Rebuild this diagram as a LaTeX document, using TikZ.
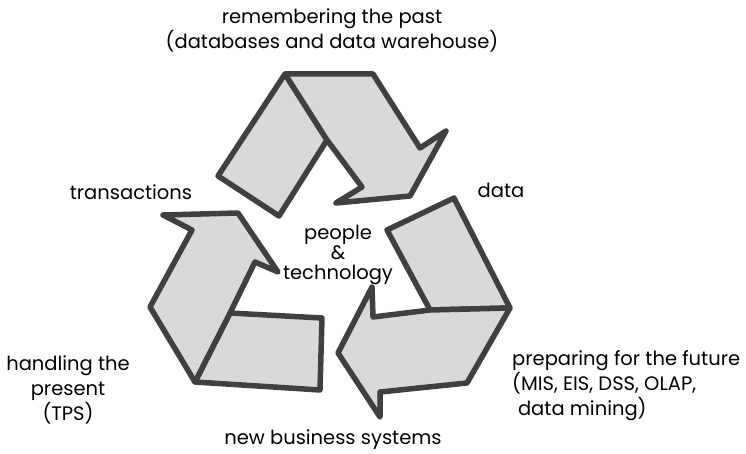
\documentclass[tikz,border=0pt]{standalone}
\usepackage{fontspec}
\setmainfont{Poppins}
\definecolor{bandfill}{HTML}{D9D9D9}
\definecolor{bandline}{HTML}{404040}
\tikzset{
    band/.style={fill=bandfill, draw=bandline, line width=5.5pt, line join=round},
    lbl/.style={font=\fontsize{19.5}{25}\selectfont, inner sep=0pt}
}
\begin{document}
\begin{tikzpicture}[x=1pt,y=-1pt]
            \useasboundingbox (0,0) rectangle (746,454);

            % top arrow (past)
            \coordinate (TA) at (285,74);\coordinate (TB) at (373,74);\coordinate (TC) at (420,148);\coordinate (TD) at (446,131);\coordinate (TE) at (410,196);\coordinate (TF) at (336,203);\coordinate (TG) at (362,187);\coordinate (TH) at (327,140);\coordinate (TI) at (218,176);\coordinate (TJ) at (279,216);
            % right arrow (future)
            \coordinate (RA) at (387,230);\coordinate (RB) at (454,198);\coordinate (RC) at (510,308);\coordinate (RD) at (430,310);\coordinate (RE) at (467,383);\coordinate (RF) at (380,392);\coordinate (RG) at (380,417);\coordinate (RH) at (338,353);\coordinate (RI) at (372,287);\coordinate (RJ) at (373,317);
            % left arrow (present)
            \coordinate (LA) at (163,215);\coordinate (LB) at (238,213);\coordinate (LC) at (278,272);\coordinate (LD) at (255,262);\coordinate (LE) at (230,313);\coordinate (LF) at (195,382);\coordinate (LG) at (150,307);\coordinate (LH) at (192,230);\coordinate (LI) at (322,318);\coordinate (LJ) at (320,390);

            \draw[band] (TA) -- (TI) -- (TJ) -- (TH) -- cycle;
            \draw[band] (TA) -- (TB) -- (TC) -- (TD) -- (TE) -- (TF) -- (TG) -- (TH) -- cycle;
            \draw[band] (RA) -- (RB) -- (RC) -- (RD) -- cycle;
            \draw[band] (RC) -- (RE) -- (RF) -- (RG) -- (RH) -- (RI) -- (RJ) -- (RD) -- cycle;
            \draw[band] (LE) -- (LI) -- (LJ) -- (LF) -- cycle;
            \draw[band] (LF) -- (LG) -- (LH) -- (LA) -- (LB) -- (LC) -- (LD) -- (LE) -- cycle;

            \node[lbl, align=center] (past) at (332,30) {remembering the past\\(databases and data warehouse)};
            \node[lbl] (trans) at (131,192) {transactions};
            \node[lbl] (data) at (501,190) {data};
            \node[lbl, align=center, font=\fontsize{19.5}{20}\selectfont] (people) at (338,255) {people\\\&\\technology};
            \node[lbl, align=center] (present) at (68,390) {handling the\\present\\(TPS)};
            \node[lbl, align=left, anchor=west] (future) at (512,386) {preparing for the future\\(MIS, EIS, DSS, OLAP,\\\hspace{0.3em}data mining)};
            \node[lbl] (newsys) at (333,440) {new business systems};

        \end{tikzpicture}
\end{document}
